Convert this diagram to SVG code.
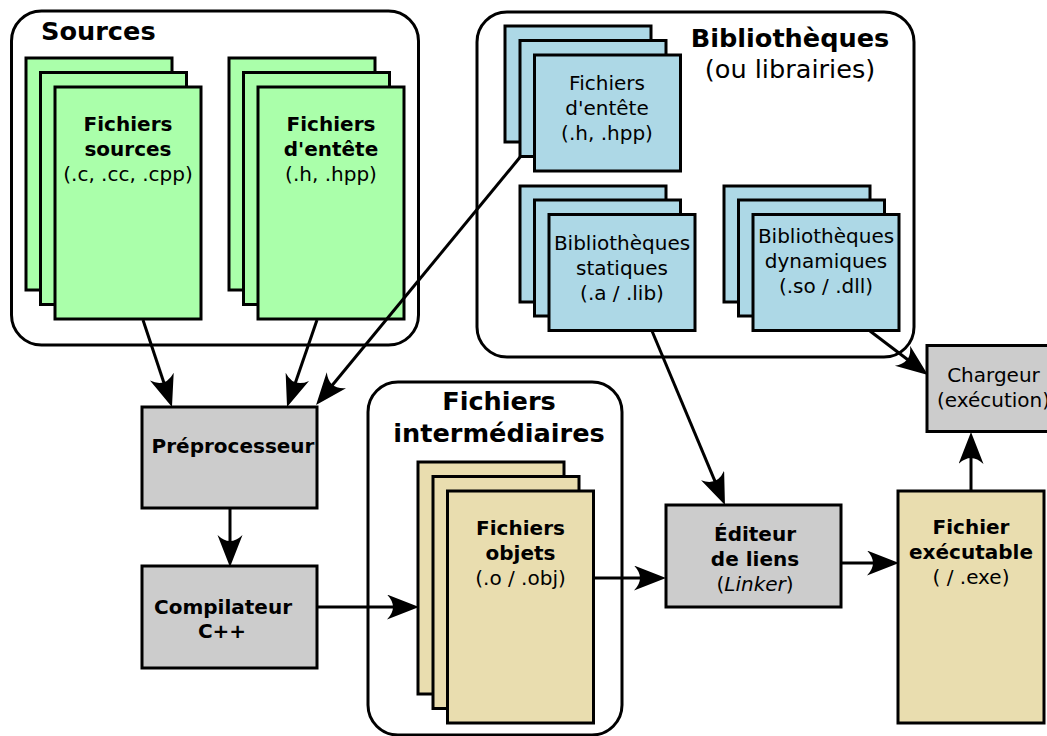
<svg xmlns="http://www.w3.org/2000/svg" width="1047" height="736" viewBox="0 0 1047 736">
<style>
text{font-family:"DejaVu Sans","Liberation Sans",sans-serif;fill:#000}
.t{font-size:20px;text-anchor:middle}
.b{font-weight:bold}
.h{font-size:25.6px;font-weight:bold;text-anchor:middle}
.cont{fill:#fff;stroke:#000;stroke-width:3}
.n{stroke:#000;stroke-width:3}
.g{fill:#aaffaa}
.bl{fill:#add8e6}
.y{fill:#e9ddaf}
.gr{fill:#cccccc}
.c{fill:none;stroke:#000;stroke-width:3;marker-end:url(#ah)}
</style>
<defs>
<marker id="ah" markerUnits="userSpaceOnUse" markerWidth="34" markerHeight="28" refX="22" refY="12.5" orient="auto">
<path d="M32,12.5 L0,0 Q12,12.5 0,25 Z" fill="#000"/>
</marker>
</defs>

<g id="sources">
<rect class="cont" x="11.5" y="11" width="407" height="334" rx="30"/>
<text x="41" y="40" style="font-size:25.6px;font-weight:bold">Sources</text>
</g>
<g id="fichiers-sources">
<rect class="n g" x="26" y="58" width="146" height="232"/>
<rect class="n g" x="40.5" y="72.5" width="146" height="232"/>
<rect class="n g" x="55" y="87" width="146" height="232"/>
<text class="t b" x="128" y="131">Fichiers</text>
<text class="t b" x="128" y="156">sources</text>
<text class="t" x="128" y="181">(.c, .cc, .cpp)</text>
</g>
<g id="fichiers-entete">
<rect class="n g" x="229" y="58" width="146" height="232"/>
<rect class="n g" x="243.5" y="72.5" width="146" height="232"/>
<rect class="n g" x="258" y="87" width="146" height="232"/>
<text class="t b" x="331" y="131">Fichiers</text>
<text class="t b" x="331" y="156">d'entête</text>
<text class="t" x="331" y="181">(.h, .hpp)</text>
</g>

<g id="bibliotheques">
<rect class="cont" x="477" y="12" width="437" height="345" rx="30"/>
<text class="h" x="790" y="47">Bibliothèques</text>
<text x="790" y="78" style="font-size:25.6px;text-anchor:middle">(ou librairies)</text>
</g>
<g id="lib-entete">
<rect class="n bl" x="505" y="26" width="146" height="116"/>
<rect class="n bl" x="520" y="40.5" width="146" height="116"/>
<rect class="n bl" x="534.5" y="55" width="146" height="116"/>
<text class="t" x="607" y="90">Fichiers</text>
<text class="t" x="607" y="115">d'entête</text>
<text class="t" x="607" y="140">(.h, .hpp)</text>
</g>
<g id="lib-statiques">
<rect class="n bl" x="520" y="186" width="146" height="116"/>
<rect class="n bl" x="534.5" y="200" width="146" height="116"/>
<rect class="n bl" x="549" y="214.5" width="146" height="116"/>
<text class="t" x="622" y="250">Bibliothèques</text>
<text class="t" x="622" y="275">statiques</text>
<text class="t" x="622" y="300">(.a / .lib)</text>
</g>
<g id="lib-dynamiques">
<rect class="n bl" x="724" y="186" width="146" height="116"/>
<rect class="n bl" x="738.5" y="200" width="146" height="116"/>
<rect class="n bl" x="753" y="214.5" width="146" height="116"/>
<text class="t" x="826" y="243">Bibliothèques</text>
<text class="t" x="826" y="268">dynamiques</text>
<text class="t" x="826" y="293">(.so / .dll)</text>
</g>

<g id="preprocesseur">
<rect class="n gr" x="142" y="407" width="175" height="101"/>
<text class="t b" x="233" y="453">Préprocesseur</text>
</g>
<g id="compilateur">
<rect class="n gr" x="142" y="566" width="175" height="102"/>
<text class="t b" x="223" y="614">Compilateur</text>
<text class="t b" x="222" y="638">C++</text>
</g>

<g id="intermediaires">
<rect class="cont" x="368" y="382" width="254" height="353" rx="30"/>
<text class="h" x="499" y="410">Fichiers</text>
<text class="h" x="499" y="442">intermédiaires</text>
</g>
<g id="fichiers-objets">
<rect class="n y" x="418" y="462" width="146" height="232"/>
<rect class="n y" x="433" y="476.5" width="146" height="232"/>
<rect class="n y" x="447.5" y="491" width="146" height="232"/>
<text class="t b" x="520.5" y="535">Fichiers</text>
<text class="t b" x="520.5" y="560">objets</text>
<text class="t" x="520.5" y="585">(.o / .obj)</text>
</g>

<g id="editeur-liens">
<rect class="n gr" x="666" y="505" width="175" height="102"/>
<text class="t b" x="755" y="541">Éditeur</text>
<text class="t b" x="755" y="566">de liens</text>
<text class="t" x="755" y="591">(<tspan font-style="italic">Linker</tspan>)</text>
</g>
<g id="fichier-executable">
<rect class="n y" x="898" y="491" width="146" height="232"/>
<text class="t b" x="971" y="534">Fichier</text>
<text class="t b" x="971" y="559">exécutable</text>
<text class="t" x="971" y="584">( / .exe)</text>
</g>
<g id="chargeur">
<rect class="n gr" x="927" y="345.5" width="146" height="86"/>
<text class="t" x="993.5" y="382">Chargeur</text>
<text class="t" x="993.5" y="407">(exécution)</text>
</g>

<g id="connectors">
<line class="c" x1="143" y1="320" x2="168.8" y2="397.5"/>
<line class="c" x1="317" y1="320" x2="290.3" y2="397.5"/>
<line class="c" x1="521" y1="156" x2="322.4" y2="397.3"/>
<line class="c" x1="230" y1="508" x2="230" y2="557"/>
<line class="c" x1="317" y1="607" x2="409" y2="607"/>
<line class="c" x1="593" y1="578" x2="656" y2="578"/>
<line class="c" x1="652" y1="331" x2="721.1" y2="495.8"/>
<line class="c" x1="870" y1="331" x2="920" y2="369"/>
<line class="c" x1="841" y1="563" x2="889" y2="563"/>
<line class="c" x1="971" y1="491" x2="971" y2="442"/>
</g>
</svg>
